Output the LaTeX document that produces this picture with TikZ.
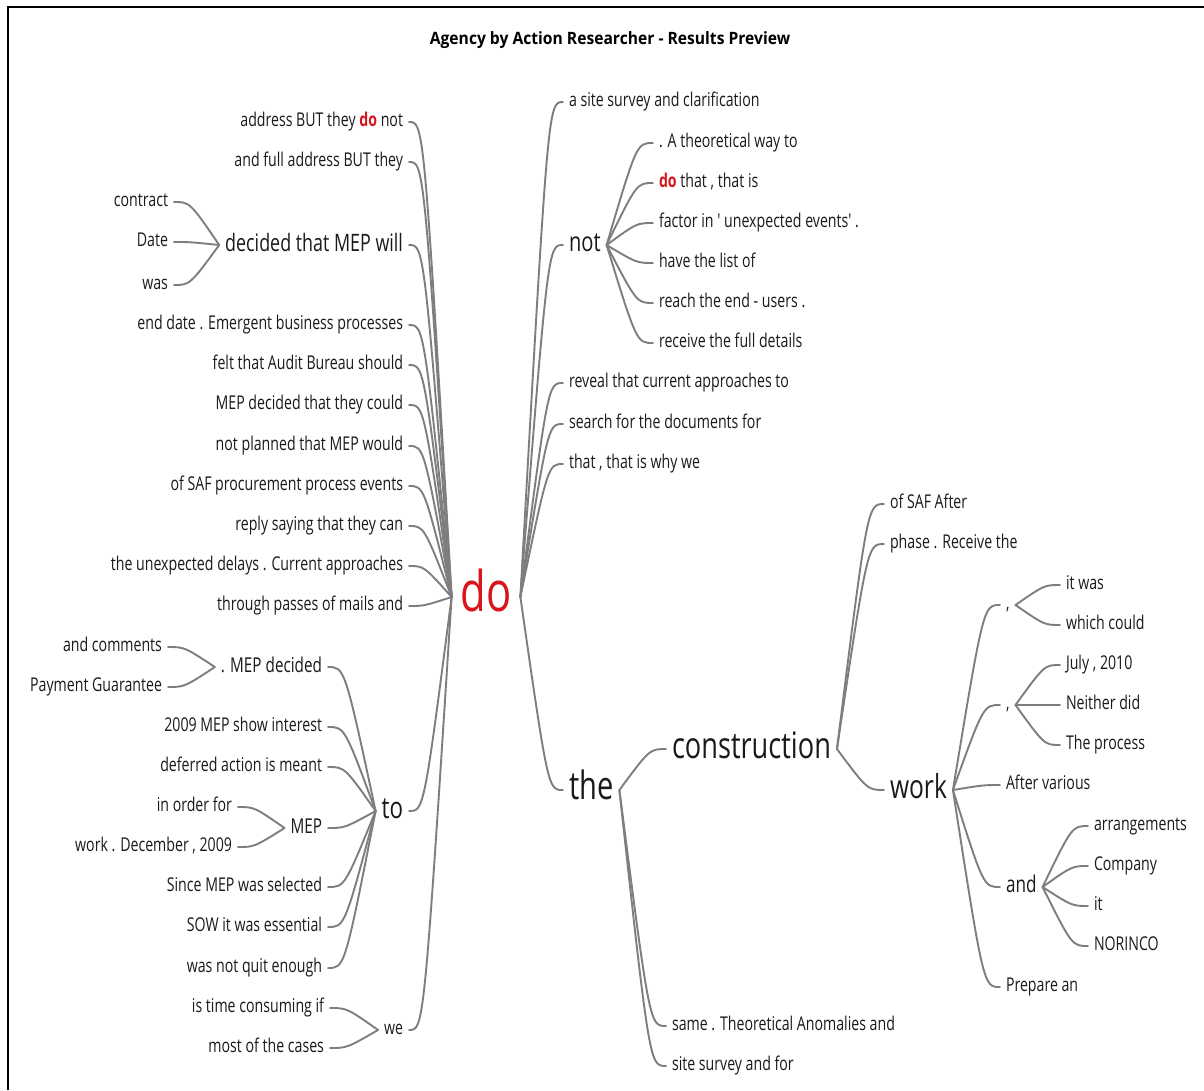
\documentclass[tikz,border=0pt]{standalone}
\usepackage{fontspec}
\usetikzlibrary{calc}
\newfontfamily\uifont[FakeStretch=0.745]{Open Sans}
\newfontfamily\titlefont[FakeStretch=0.92]{Open Sans}
\definecolor{ink}{HTML}{1A1A1A}
\definecolor{dored}{HTML}{D9141B}
\definecolor{linkgray}{HTML}{7E7E7E}
\newcommand\fs[1]{\fontsize{#1}{#1}\selectfont}
\newcommand\hl{\textcolor{dored}{\bfseries do}}
% curved connector: leaves the parent steeply, enters the child horizontally
\newcommand\lk[2]{\draw[link] let \p1=(#1), \p2=(#2) in (\p1) .. controls ({\x1+0.65*(\x2-\x1)},\y2) .. (\p2);}
\tikzset{
  % font size with a box whose centre sits at the middle of the lower-case letters
  sz/.code={\pgfmathsetlengthmacro\szh{0.5*#1}\pgfkeysalso{/tikz/font={\uifont\fs{#1}}, /tikz/text depth=0pt, /tikz/text height/.expanded=\szh}},
  lt/.style={sz=19, text=ink, inner sep=0pt, outer xsep=6pt, outer ysep=0pt},
  lw/.style={lt, anchor=east},
  rw/.style={lt, anchor=west},
  link/.style={draw=linkgray, line width=1.9pt, line cap=round},
}
\begin{document}
\begin{tikzpicture}[x=1pt,y=-1pt]
\useasboundingbox (0,0) rectangle (1204,1090);
\fill[white] (0,0) rectangle (1204,1090);
% frame
\draw[line width=2pt, black] (8,1090) -- (8,7) -- (1204,7);
% title
\node[font=\titlefont\fs{17}\bfseries, text=black, inner sep=0pt] (title) at (610,40) {Agency by Action Researcher - Results Preview};

% central word
\node[lt, sz=56, text=dored, anchor=center, outer xsep=9pt] (do) at (486,597) {do};

% ---- left branch of "do"
\node[lw] (l1) at (409,122) {address BUT they \hl{} not};
\node[lw] (l2) at (409,162) {and full address BUT they};
\node[lw, sz=24] (dec) at (409,245) {decided that MEP will};
\node[lw] (dc1) at (174,202) {contract};
\node[lw] (dc2) at (174,242) {Date};
\node[lw] (dc3) at (174,285) {was};
\node[lw] (l4) at (409,325) {end date . Emergent business processes};
\node[lw] (l5) at (409,365) {felt that Audit Bureau should};
\node[lw] (l6) at (409,405) {MEP decided that they could};
\node[lw] (l7) at (409,446) {not planned that MEP would};
\node[lw] (l8) at (409,486) {of SAF procurement process events};
\node[lw] (l9) at (409,526) {reply saying that they can};
\node[lw] (l10) at (409,566) {the unexpected delays . Current approaches};
\node[lw] (l11) at (409,606) {through passes of mails and};

\node[lw, sz=30] (to) at (409,811) {to};
\node[lw, sz=20.5] (md) at (328,667) {. MEP decided};
\node[lw] (md1) at (168,647) {and comments};
\node[lw] (md2) at (168,687) {Payment Guarantee};
\node[lw] (t2) at (328,727) {2009 MEP show interest};
\node[lw] (t3) at (328,767) {deferred action is meant};
\node[lw, sz=20.5] (mep) at (328,828) {MEP};
\node[lw] (mp1) at (238,807) {in order for};
\node[lw] (mp2) at (238,847) {work . December , 2009};
\node[lw] (t5) at (328,887) {Since MEP was selected};
\node[lw] (t6) at (328,927) {SOW it was essential};
\node[lw] (t7) at (328,968) {was not quit enough};

\node[lw] (we) at (409,1030) {we};
\node[lw] (we1) at (330,1008) {is time consuming if};
\node[lw] (we2) at (330,1048) {most of the cases};

% ---- right branch of "do"
\node[rw] (r1) at (563,102) {a site survey and clarification};
\node[rw, sz=27] (not) at (563,245) {not};
\node[rw] (n1) at (653,143) {. A theoretical way to};
\node[rw] (n2) at (653,183) {\hl{} that , that is};
\node[rw] (n3) at (653,223) {factor in ' unexpected events' .};
\node[rw] (n4) at (653,263) {have the list of};
\node[rw] (n5) at (653,303) {reach the end - users .};
\node[rw] (n6) at (653,343) {receive the full details};
\node[rw] (r3) at (563,383) {reveal that current approaches to};
\node[rw] (r4) at (563,424) {search for the documents for};
\node[rw] (r5) at (563,464) {that , that is why we};

\node[rw, sz=39] (the) at (563,790) {the};
\node[rw, sz=36.5] (con) at (666,749) {construction};
\node[rw] (c1) at (884,504) {of SAF After};
\node[rw] (c2) at (884,544) {phase . Receive the};
\node[rw, sz=33] (work) at (884,790) {work};
\node[rw] (cm1) at (1000,605) {,};
\node[rw] (cm1a) at (1060,585) {it was};
\node[rw] (cm1b) at (1060,625) {which could};
\node[rw] (cm2) at (1000,705) {,};
\node[rw] (cm2a) at (1060,665) {July , 2010};
\node[rw] (cm2b) at (1060,705) {Neither did};
\node[rw] (cm2c) at (1060,745) {The process};
\node[rw] (w3) at (1000,785) {After various};
\node[rw, sz=23] (and) at (1000,887) {and};
\node[rw] (a1) at (1088,826) {arrangements};
\node[rw] (a2) at (1088,866) {Company};
\node[rw] (a3) at (1088,906) {it};
\node[rw] (a4) at (1088,946) {NORINCO};
\node[rw] (w5) at (1000,987) {Prepare an};
\node[rw] (th2) at (666,1026) {same . Theoretical Anomalies and};
\node[rw] (th3) at (666,1066) {site survey and for};

% ---- connectors
\foreach \c in {l1,l2,dec,l4,l5,l6,l7,l8,l9,l10,l11,to,we} {\lk{do.west}{\c.east}}
\foreach \c in {dc1,dc2,dc3} {\lk{dec.west}{\c.east}}
\foreach \c in {md,t2,t3,mep,t5,t6,t7} {\lk{to.west}{\c.east}}
\foreach \c in {md1,md2} {\lk{md.west}{\c.east}}
\foreach \c in {mp1,mp2} {\lk{mep.west}{\c.east}}
\foreach \c in {we1,we2} {\lk{we.west}{\c.east}}
\foreach \c in {r1,not,r3,r4,r5,the} {\lk{do.east}{\c.west}}
\foreach \c in {n1,n2,n3,n4,n5,n6} {\lk{not.east}{\c.west}}
\foreach \c in {con,th2,th3} {\lk{the.east}{\c.west}}
\foreach \c in {c1,c2,work} {\lk{con.east}{\c.west}}
\foreach \c in {cm1,cm2,w3,and,w5} {\lk{work.east}{\c.west}}
\foreach \c in {cm1a,cm1b} {\lk{cm1.east}{\c.west}}
\foreach \c in {cm2a,cm2b,cm2c} {\lk{cm2.east}{\c.west}}
\foreach \c in {a1,a2,a3,a4} {\lk{and.east}{\c.west}}
\end{tikzpicture}
\end{document}
